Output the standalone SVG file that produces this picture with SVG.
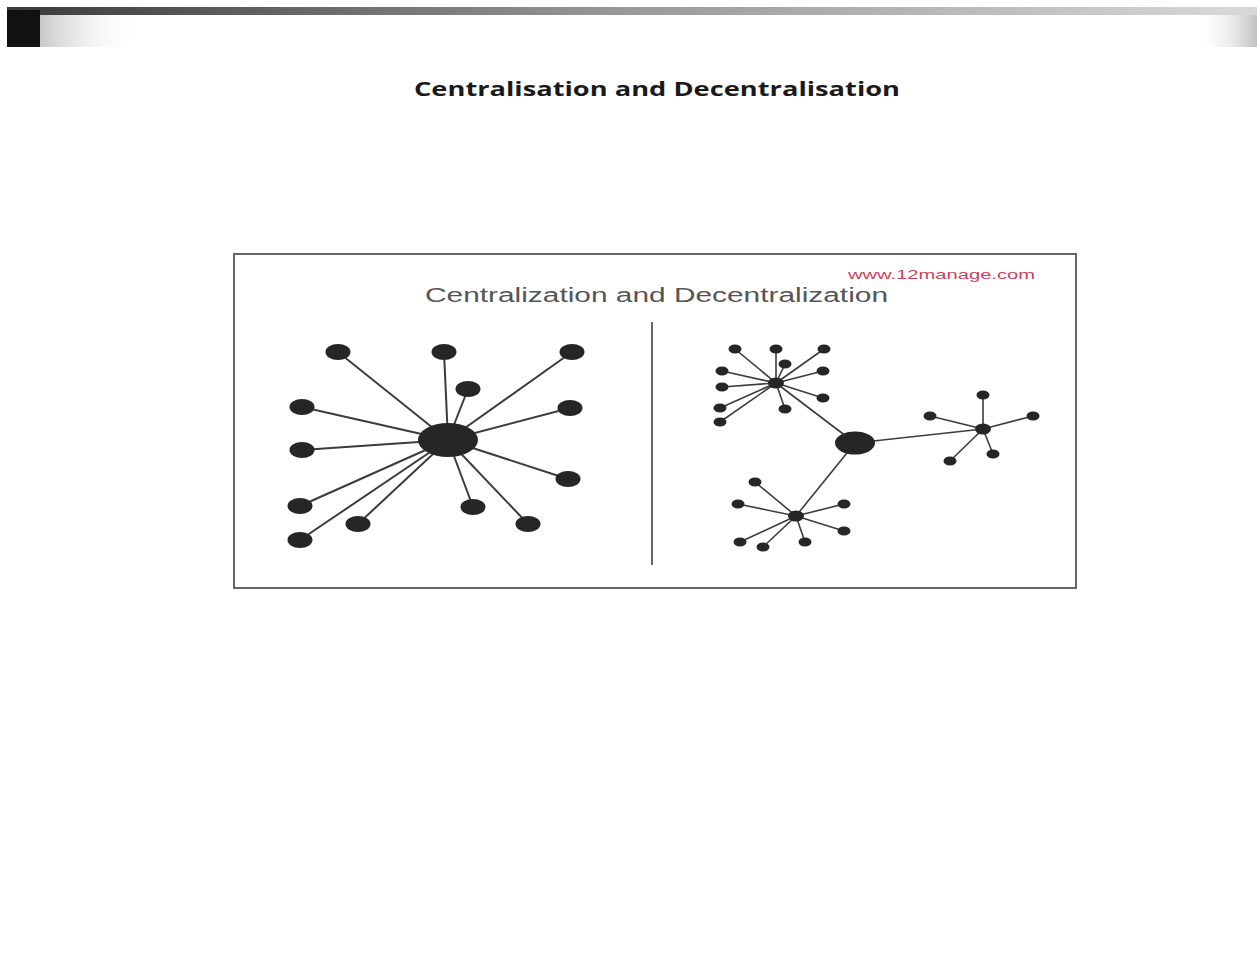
<svg xmlns="http://www.w3.org/2000/svg" width="1257" height="957" viewBox="0 0 1257 957">
<defs>
<linearGradient id="topbar" x1="0" y1="0" x2="1" y2="0">
<stop offset="0" stop-color="#3a3a3a"/>
<stop offset="0.5" stop-color="#9a9a9a"/>
<stop offset="1" stop-color="#d8d8d8"/>
</linearGradient>
<linearGradient id="fadeL" x1="0" y1="0" x2="1" y2="0">
<stop offset="0" stop-color="#c8c8c8"/>
<stop offset="1" stop-color="#ffffff" stop-opacity="0"/>
</linearGradient>
<linearGradient id="fadeR" x1="1" y1="0" x2="0" y2="0">
<stop offset="0" stop-color="#c0c0c0"/>
<stop offset="1" stop-color="#ffffff" stop-opacity="0"/>
</linearGradient>
</defs>
<style>
.edge{stroke:#3c3c3c;stroke-width:2;fill:none}
.edge2{stroke:#3c3c3c;stroke-width:1.6;fill:none}
.node{fill:#262626}
.title{font-family:"Open Sans","Liberation Sans",sans-serif;font-weight:bold;font-size:20px;fill:#1a1a1a}
.sub{font-family:"Liberation Sans",Arial,sans-serif;font-size:20px;fill:#555}
.url{font-family:"Liberation Sans",Arial,sans-serif;font-size:13px;fill:#d0405a}
</style>
<rect width="1257" height="957" fill="#ffffff"/>
<g id="page-decor">
<rect x="7" y="7" width="1250" height="8" fill="url(#topbar)"/>
<rect x="40" y="15" width="100" height="32" fill="url(#fadeL)"/>
<rect x="1195" y="15" width="62" height="32" fill="url(#fadeR)"/>
<rect x="7" y="10" width="33" height="37" fill="#111"/>
</g>
<g id="heading">
<text class="title" x="414" y="96" textLength="486" lengthAdjust="spacingAndGlyphs">Centralisation and Decentralisation</text>
</g>
<g id="figure-frame">
<rect x="234" y="254" width="842" height="334" fill="#fff" stroke="#666" stroke-width="2"/>
<text class="sub" x="425" y="302" textLength="463" lengthAdjust="spacingAndGlyphs">Centralization and Decentralization</text>
<text class="url" x="848" y="279" textLength="187" lengthAdjust="spacingAndGlyphs">www.12manage.com</text>
<line x1="652" y1="322" x2="652" y2="565" stroke="#666" stroke-width="2"/>
</g>
<g id="connectors">
<g class="edge">
<line x1="448" y1="440" x2="338" y2="352"/>
<line x1="448" y1="440" x2="444" y2="352"/>
<line x1="448" y1="440" x2="572" y2="352"/>
<line x1="448" y1="440" x2="468" y2="389"/>
<line x1="448" y1="440" x2="302" y2="407"/>
<line x1="448" y1="440" x2="570" y2="408"/>
<line x1="448" y1="440" x2="302" y2="450"/>
<line x1="448" y1="440" x2="568" y2="479"/>
<line x1="448" y1="440" x2="300" y2="506"/>
<line x1="448" y1="440" x2="473" y2="507"/>
<line x1="448" y1="440" x2="358" y2="524"/>
<line x1="448" y1="440" x2="528" y2="524"/>
<line x1="448" y1="440" x2="300" y2="540"/>
</g>
<g class="edge2">
<line x1="855" y1="443" x2="776" y2="383"/>
<line x1="855" y1="443" x2="983" y2="429"/>
<line x1="855" y1="443" x2="796" y2="516"/>
<line x1="776" y1="383" x2="735" y2="349"/>
<line x1="776" y1="383" x2="776" y2="349"/>
<line x1="776" y1="383" x2="824" y2="349"/>
<line x1="776" y1="383" x2="785" y2="364"/>
<line x1="776" y1="383" x2="722" y2="371"/>
<line x1="776" y1="383" x2="823" y2="371"/>
<line x1="776" y1="383" x2="722" y2="387"/>
<line x1="776" y1="383" x2="823" y2="398"/>
<line x1="776" y1="383" x2="720" y2="408"/>
<line x1="776" y1="383" x2="785" y2="409"/>
<line x1="776" y1="383" x2="720" y2="422"/>
<line x1="983" y1="429" x2="983" y2="395"/>
<line x1="983" y1="429" x2="930" y2="416"/>
<line x1="983" y1="429" x2="1033" y2="416"/>
<line x1="983" y1="429" x2="950" y2="461"/>
<line x1="983" y1="429" x2="993" y2="454"/>
<line x1="796" y1="516" x2="755" y2="482"/>
<line x1="796" y1="516" x2="738" y2="504"/>
<line x1="796" y1="516" x2="844" y2="504"/>
<line x1="796" y1="516" x2="844" y2="531"/>
<line x1="796" y1="516" x2="740" y2="542"/>
<line x1="796" y1="516" x2="763" y2="547"/>
<line x1="796" y1="516" x2="805" y2="542"/>
</g>
</g>
<g id="central-hub"><ellipse class="node" cx="448" cy="440" rx="30" ry="17"/></g>
<g id="central-leaves">
<ellipse class="node" cx="338" cy="352" rx="12.5" ry="8"/>
<ellipse class="node" cx="444" cy="352" rx="12.5" ry="8"/>
<ellipse class="node" cx="572" cy="352" rx="12.5" ry="8"/>
<ellipse class="node" cx="468" cy="389" rx="12.5" ry="8"/>
<ellipse class="node" cx="302" cy="407" rx="12.5" ry="8"/>
<ellipse class="node" cx="570" cy="408" rx="12.5" ry="8"/>
<ellipse class="node" cx="302" cy="450" rx="12.5" ry="8"/>
<ellipse class="node" cx="568" cy="479" rx="12.5" ry="8"/>
<ellipse class="node" cx="300" cy="506" rx="12.5" ry="8"/>
<ellipse class="node" cx="473" cy="507" rx="12.5" ry="8"/>
<ellipse class="node" cx="358" cy="524" rx="12.5" ry="8"/>
<ellipse class="node" cx="528" cy="524" rx="12.5" ry="8"/>
<ellipse class="node" cx="300" cy="540" rx="12.5" ry="8"/>
</g>
<g id="decentral-hub"><ellipse class="node" cx="855" cy="443" rx="20" ry="11.5"/></g>
<g id="cluster-a">
<ellipse class="node" cx="776" cy="383" rx="8" ry="5.5"/>
<ellipse class="node" cx="735" cy="349" rx="6.5" ry="4.5"/>
<ellipse class="node" cx="776" cy="349" rx="6.5" ry="4.5"/>
<ellipse class="node" cx="824" cy="349" rx="6.5" ry="4.5"/>
<ellipse class="node" cx="785" cy="364" rx="6.5" ry="4.5"/>
<ellipse class="node" cx="722" cy="371" rx="6.5" ry="4.5"/>
<ellipse class="node" cx="823" cy="371" rx="6.5" ry="4.5"/>
<ellipse class="node" cx="722" cy="387" rx="6.5" ry="4.5"/>
<ellipse class="node" cx="823" cy="398" rx="6.5" ry="4.5"/>
<ellipse class="node" cx="720" cy="408" rx="6.5" ry="4.5"/>
<ellipse class="node" cx="785" cy="409" rx="6.5" ry="4.5"/>
<ellipse class="node" cx="720" cy="422" rx="6.5" ry="4.5"/>
</g>
<g id="cluster-b">
<ellipse class="node" cx="983" cy="429" rx="8" ry="5.5"/>
<ellipse class="node" cx="983" cy="395" rx="6.5" ry="4.5"/>
<ellipse class="node" cx="930" cy="416" rx="6.5" ry="4.5"/>
<ellipse class="node" cx="1033" cy="416" rx="6.5" ry="4.5"/>
<ellipse class="node" cx="950" cy="461" rx="6.5" ry="4.5"/>
<ellipse class="node" cx="993" cy="454" rx="6.5" ry="4.5"/>
</g>
<g id="cluster-c">
<ellipse class="node" cx="796" cy="516" rx="8" ry="5.5"/>
<ellipse class="node" cx="755" cy="482" rx="6.5" ry="4.5"/>
<ellipse class="node" cx="738" cy="504" rx="6.5" ry="4.5"/>
<ellipse class="node" cx="844" cy="504" rx="6.5" ry="4.5"/>
<ellipse class="node" cx="844" cy="531" rx="6.5" ry="4.5"/>
<ellipse class="node" cx="740" cy="542" rx="6.5" ry="4.5"/>
<ellipse class="node" cx="763" cy="547" rx="6.5" ry="4.5"/>
<ellipse class="node" cx="805" cy="542" rx="6.5" ry="4.5"/>
</g>
</svg>
